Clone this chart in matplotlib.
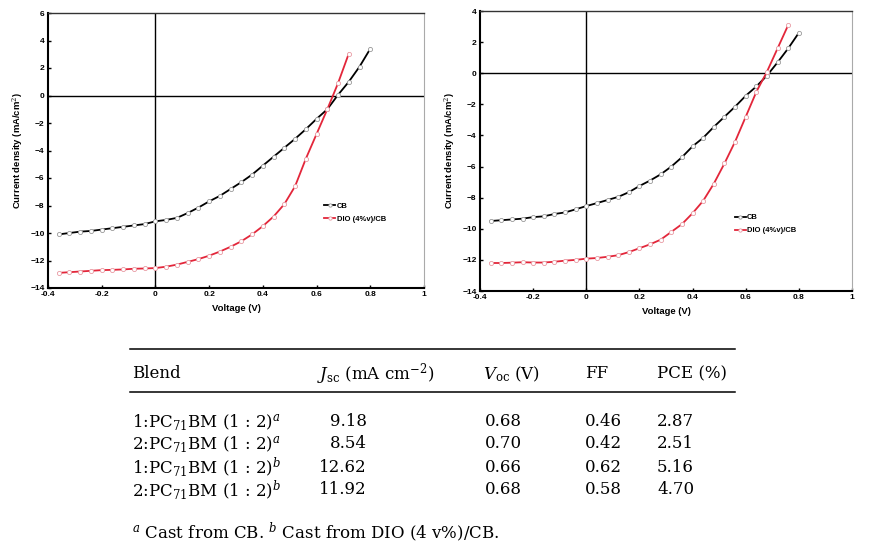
import matplotlib
matplotlib.use("Agg")
import matplotlib.pyplot as plt
from matplotlib.lines import Line2D

# tension (V), pas de 0.04 V
voltage = [round(-0.36 + 0.04 * i, 2) for i in range(30)]

# panneau gauche (polymere 1)
cb_left = [-10.1, -10.0, -9.9, -9.85, -9.75, -9.65, -9.55, -9.45, -9.35, -9.15,
           -9.05, -8.9, -8.55, -8.15, -7.7, -7.3, -6.8, -6.3, -5.75, -5.1,
           -4.45, -3.8, -3.15, -2.45, -1.7, -1.0, 0.05, 1.0, 2.1, 3.4]
dio_left = [-12.9, -12.85, -12.8, -12.75, -12.7, -12.68, -12.65, -12.6, -12.58, -12.55,
            -12.45, -12.3, -12.1, -11.9, -11.65, -11.35, -11.0, -10.6, -10.1, -9.5,
            -8.8, -7.9, -6.6, -4.6, -2.8, -1.0, 0.9, 3.05]

# panneau droit (polymere 2)
cb_right = [-9.5, -9.45, -9.4, -9.35, -9.25, -9.2, -9.05, -8.95, -8.75, -8.54,
            -8.35, -8.15, -7.95, -7.65, -7.25, -6.9, -6.5, -6.0, -5.4, -4.7,
            -4.15, -3.45, -2.8, -2.15, -1.45, -0.85, -0.15, 0.7, 1.6, 2.6]
dio_right = [-12.2, -12.2, -12.18, -12.15, -12.17, -12.17, -12.12, -12.05, -12.0, -11.92,
             -11.88, -11.8, -11.7, -11.5, -11.25, -11.0, -10.7, -10.2, -9.7, -9.0,
             -8.2, -7.1, -5.8, -4.4, -2.8, -1.2, 0.1, 1.6, 3.1]

series_labels = ["CB", "DIO (4%v)/CB"]

# tableau
col_headers = ["Blend", r"$J_{\rm sc}$ (mA cm$^{-2}$)", r"$V_{\rm oc}$ (V)", "FF", "PCE (%)"]
blends = [r"1:PC$_{71}$BM (1 : 2)$^{a}$", r"2:PC$_{71}$BM (1 : 2)$^{a}$",
          r"1:PC$_{71}$BM (1 : 2)$^{b}$", r"2:PC$_{71}$BM (1 : 2)$^{b}$"]
jsc = ["9.18", "8.54", "12.62", "11.92"]
voc = ["0.68", "0.70", "0.66", "0.68"]
ff = ["0.46", "0.42", "0.62", "0.58"]
pce = ["2.87", "2.51", "5.16", "4.70"]
footnote = r"$^{a}$ Cast from CB. $^{b}$ Cast from DIO (4 v%)/CB."

RED = "#e3263a"
W, H = 869, 551

plt.rcParams["font.family"] = ["Liberation Sans", "DejaVu Sans"]
plt.rcParams["mathtext.fontset"] = "dejavuserif"

fig = plt.figure(figsize=(W / 100, H / 100), dpi=100)


def px_box(left, top, right, bottom):
    # boite en pixels -> fractions de figure
    return [left / W, 1 - bottom / H, (right - left) / W, (bottom - top) / H]


def draw_panel(ax, cb, dio, ymin, ymax, leg_anchor):
    ax.plot(voltage[:len(cb)], cb, "-o", color="black", lw=1.3, ms=3,
            mfc="white", mec="#999999", mew=0.6, label=series_labels[0], zorder=3)
    ax.plot(voltage[:len(dio)], dio, "-o", color=RED, lw=1.3, ms=3,
            mfc="white", mec="#e89aa3", mew=0.6, label=series_labels[1], zorder=3)
    ax.axhline(0, color="black", lw=1.0, zorder=2)
    ax.axvline(0, color="black", lw=1.0, zorder=2)
    ax.set_xlim(-0.4, 1)
    ax.set_ylim(ymin, ymax)
    ax.set_xticks([-0.4, -0.2, 0, 0.2, 0.4, 0.6, 0.8, 1])
    ax.set_xticklabels(["-0.4", "-0.2", "0", "0.2", "0.4", "0.6", "0.8", "1"])
    ax.set_yticks(range(ymin, ymax + 1, 2))
    ax.tick_params(labelsize=6, length=2, width=1, direction="in", pad=2.5)
    for lab in ax.get_xticklabels() + ax.get_yticklabels():
        lab.set_fontweight("bold")
    for side in ["left", "bottom"]:
        ax.spines[side].set_linewidth(1.5)
    ax.spines["top"].set_color("#333333")
    ax.spines["top"].set_linewidth(1.0)
    ax.spines["right"].set_color("#aaaaaa")
    ax.spines["right"].set_linewidth(0.8)
    ax.set_xlabel("Voltage (V)", fontsize=6.8, fontweight="bold", labelpad=4)
    ax.set_ylabel("Current density (mA/cm$^{2}$)", fontsize=6.8, fontweight="bold", labelpad=4)
    leg = ax.legend(loc="upper left", bbox_to_anchor=leg_anchor, frameon=False,
                    fontsize=5.5, handlelength=1.4, handletextpad=0.2,
                    labelspacing=0.75, borderpad=0, borderaxespad=0, markerscale=0.8)
    for t in leg.get_texts():
        t.set_fontweight("bold")


ax1 = fig.add_axes(px_box(48, 13, 424, 288))
draw_panel(ax1, cb_left, dio_left, -14, 6, (0.735, 0.31))

ax2 = fig.add_axes(px_box(480, 11, 852, 291))
draw_panel(ax2, cb_right, dio_right, -14, 4, (0.685, 0.275))


# tableau en bas, en coordonnees pixels
def fy(y):
    return 1 - y / H


for y in [349, 392]:
    fig.add_artist(Line2D([130 / W, 735 / W], [fy(y), fy(y)], color="black", lw=1.1))

serif = ["DejaVu Serif"]
header_x = [132, 317, 483, 585, 657]
for x, txt in zip(header_x, col_headers):
    fig.text(x / W, fy(374), txt, fontsize=12, family=serif, va="center", ha="left")

row_y = [422, 444, 467, 490]
for i, y in enumerate(row_y):
    fig.text(132 / W, fy(y), blends[i], fontsize=12, family=serif, va="center", ha="left")
    fig.text(367 / W, fy(y), jsc[i], fontsize=12, family=serif, va="center", ha="right")
    fig.text(485 / W, fy(y), voc[i], fontsize=12, family=serif, va="center", ha="left")
    fig.text(585 / W, fy(y), ff[i], fontsize=12, family=serif, va="center", ha="left")
    fig.text(657 / W, fy(y), pce[i], fontsize=12, family=serif, va="center", ha="left")

fig.text(132 / W, fy(532), footnote, fontsize=12, family=serif, va="center", ha="left")

fig.savefig("out.png", dpi=100)
